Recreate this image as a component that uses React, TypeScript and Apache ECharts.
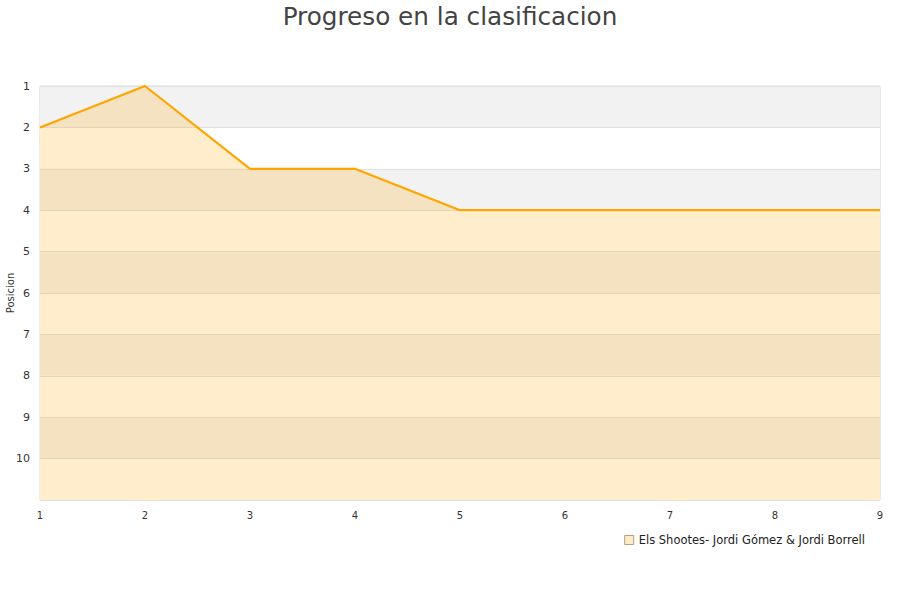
import React, { useEffect, useRef } from "react";
import * as echarts from "echarts";

const jornadas = ["1", "2", "3", "4", "5", "6", "7", "8", "9"];
const posiciones = [2, 1, 3, 3, 4, 4, 4, 4, 4];
const seriesName = "Els Shootes- Jordi Gómez & Jordi Borrell";
const titleText = "Progreso en la clasificacion";
const yAxisName = "Posicion";

export default function App() {
  const ref = useRef<HTMLDivElement>(null);
  useEffect(() => {
    if (!ref.current) return;
    const chart = echarts.init(ref.current, undefined, { renderer: "svg" });
    chart.setOption({
      animation: false,
      textStyle: { fontFamily: "DejaVu Sans" },
      title: {
        text: titleText,
        left: "center",
        top: -1,
        textStyle: { fontSize: 24.7, fontWeight: "normal", color: "#444", fontFamily: "DejaVu Sans" },
      },
      grid: {
        left: 40, right: 20, top: 86, bottom: 100,
        containLabel: false, outerBoundsMode: "none",
        show: true, borderColor: "#d9d9d9", borderWidth: 1, backgroundColor: "transparent",
      },
      legend: {
        right: 30,
        top: 529,
        itemWidth: 9,
        itemHeight: 9,
        itemGap: 8,
        icon: "rect",
        textStyle: { fontSize: 11.5, color: "#222" },
        data: [{ name: seriesName, itemStyle: { color: "#ffebc8", borderColor: "#b0a080", borderWidth: 1 } }],
      },
      graphic: [
        {
          type: "text",
          x: 10,
          y: 293,
          rotation: Math.PI / 2,
          style: {
            text: yAxisName,
            fontSize: 10,
            fill: "#333",
            fontFamily: "DejaVu Sans",
            align: "center",
            verticalAlign: "middle",
          },
        },
      ],
      xAxis: {
        type: "value",
        min: 1,
        max: 9,
        interval: 1,
        axisLine: { show: false },
        axisTick: { show: false },
        splitLine: { show: false },
        axisLabel: { fontSize: 10, color: "#333", margin: 10, formatter: (v: number) => jornadas[v - 1] ?? "" },
      },
      yAxis: {
        type: "value",
        inverse: true,
        min: 1,
        max: 11,
        interval: 1,
        axisLine: { show: false },
        axisTick: { show: false },
        splitLine: { show: true, lineStyle: { color: "#e0e0e0" } },
        splitArea: { show: true, areaStyle: { color: ["#f2f2f2", "#ffffff"] } },
        axisLabel: { fontSize: 11, color: "#333", margin: 10, formatter: (v: number) => (v <= 10 ? String(v) : "") },
      },
      series: [
        {
          name: seriesName,
          type: "line",
          data: posiciones.map((p, i) => [Number(jornadas[i]), p]),
          symbol: "none",
          lineStyle: { color: "#ffa500", width: 2.2 },
          itemStyle: { color: "#ffa500" },
          areaStyle: { color: "#ffa500", opacity: 0.2, origin: "end" },
        },
      ],
    });
    return () => chart.dispose();
  }, []);
  return <div ref={ref} style={{ width: 900, height: 600, position: "absolute", left: 0, top: 0 }} />;
}
